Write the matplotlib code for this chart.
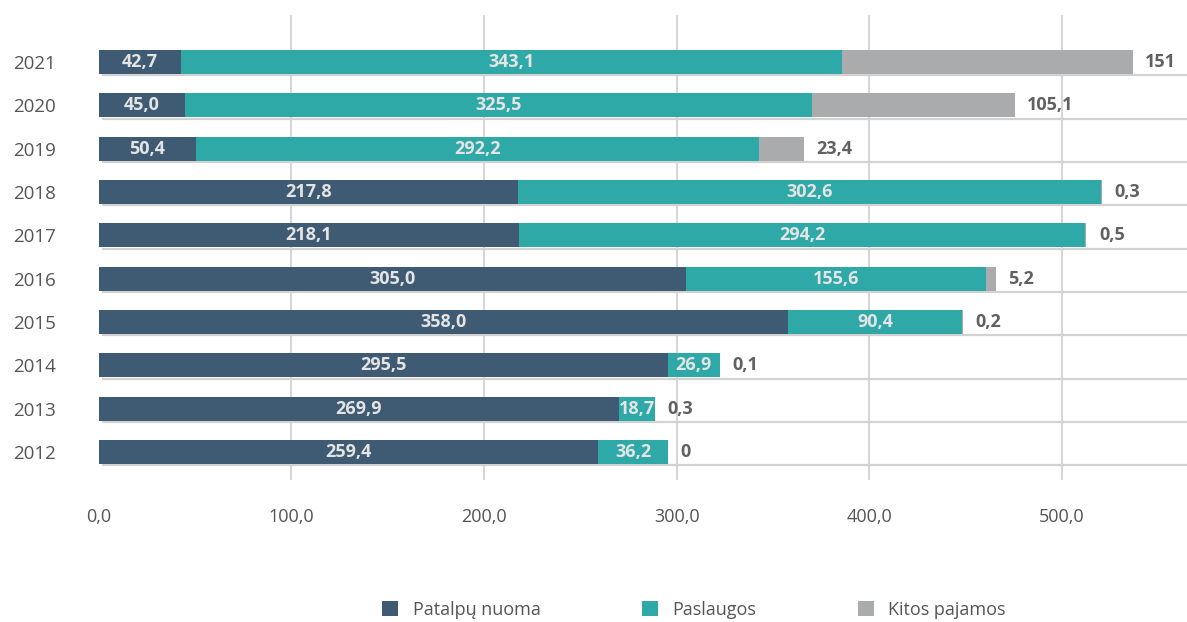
import matplotlib
matplotlib.use("Agg")
import matplotlib.pyplot as plt
from matplotlib.patches import Patch

plt.rcParams['font.family'] = ['Open Sans', 'DejaVu Sans']

years = ['2012', '2013', '2014', '2015', '2016', '2017', '2018', '2019', '2020', '2021']
patalpu_nuoma = [259.4, 269.9, 295.5, 358.0, 305.0, 218.1, 217.8, 50.4, 45.0, 42.7]
paslaugos = [36.2, 18.7, 26.9, 90.4, 155.6, 294.2, 302.6, 292.2, 325.5, 343.1]
kitos_pajamos = [0.0, 0.3, 0.1, 0.2, 5.2, 0.5, 0.3, 23.4, 105.1, 151.0]
kitos_labels = ['0', '0,3', '0,1', '0,2', '5,2', '0,5', '0,3', '23,4', '105,1', '151']
series_names = ['Patalpų nuoma', 'Paslaugos', 'Kitos pajamos']
xticks = [0, 100, 200, 300, 400, 500]
xtick_labels = ['0,0', '100,0', '200,0', '300,0', '400,0', '500,0']

c_dark = '#3f5b73'
c_teal = '#2ea9a7'
c_gray = '#aaabac'
inner_col = '#e4e4e4'
outer_col = '#616161'

W, H = 1187, 622
fig = plt.figure(figsize=(W / 100, H / 100), dpi=100)
ax = fig.add_axes([92 / W, 1 - 480 / H, (W - 92) / W, 465 / H])

y = list(range(len(years)))
bh = 0.55

def fmt(v):
    return f"{v:.1f}".replace('.', ',')

left2 = patalpu_nuoma
left3 = [a + b for a, b in zip(patalpu_nuoma, paslaugos)]
ax.barh(y, patalpu_nuoma, height=bh, color=c_dark, zorder=3)
ax.barh(y, paslaugos, left=left2, height=bh, color=c_teal, zorder=3)
ax.barh(y, kitos_pajamos, left=left3, height=bh, color=c_gray, zorder=3)

# row separator lines just under each bar
for yi in y:
    ax.plot([1.5, 700], [yi - bh / 2 - 0.03] * 2, color='#d2d2d2', lw=1.6,
            zorder=2, solid_capstyle='butt')

for i in y:
    ax.text(patalpu_nuoma[i] / 2, i, fmt(patalpu_nuoma[i]), ha='center', va='center',
            color=inner_col, fontsize=13, fontweight='bold', zorder=4)
    ax.text(left2[i] + paslaugos[i] / 2, i, fmt(paslaugos[i]), ha='center', va='center',
            color=inner_col, fontsize=13, fontweight='bold', zorder=4)
    end = left3[i] + kitos_pajamos[i]
    ax.annotate(kitos_labels[i], (end, i), xytext=(9, 0), textcoords='offset points',
                ha='left', va='center', color=outer_col, fontsize=13,
                fontweight='bold', zorder=4)

ax.set_xlim(-3.5, 565)
ax.set_ylim(-0.646, 10.085)
ax.set_xticks(xticks)
ax.set_xticklabels(xtick_labels)
ax.set_yticks(y)
ax.set_yticklabels(years)
ax.tick_params(axis='both', length=0, labelsize=13, labelcolor='#555555')
ax.tick_params(axis='x', pad=20)
ax.tick_params(axis='y', pad=26)
for lbl in ax.get_yticklabels():
    lbl.set_fontsize(13.5)
ax.grid(axis='x', color='#d2d2d2', lw=1.3, zorder=1)
for s in ax.spines.values():
    s.set_visible(False)
# hide gridline at 0
ax.xaxis.get_gridlines()[0].set_visible(False)

handles = [Patch(facecolor=c, edgecolor='none') for c in (c_dark, c_teal, c_gray)]
fig.legend(handles, series_names, loc='center', bbox_to_anchor=(694 / W, 1 - 610 / H),
           ncol=3, frameon=False, fontsize=13, handlelength=0.9, handleheight=0.9,
           handletextpad=0.8, columnspacing=5.6, labelcolor='#555555')

fig.savefig('out.png', dpi=100)
